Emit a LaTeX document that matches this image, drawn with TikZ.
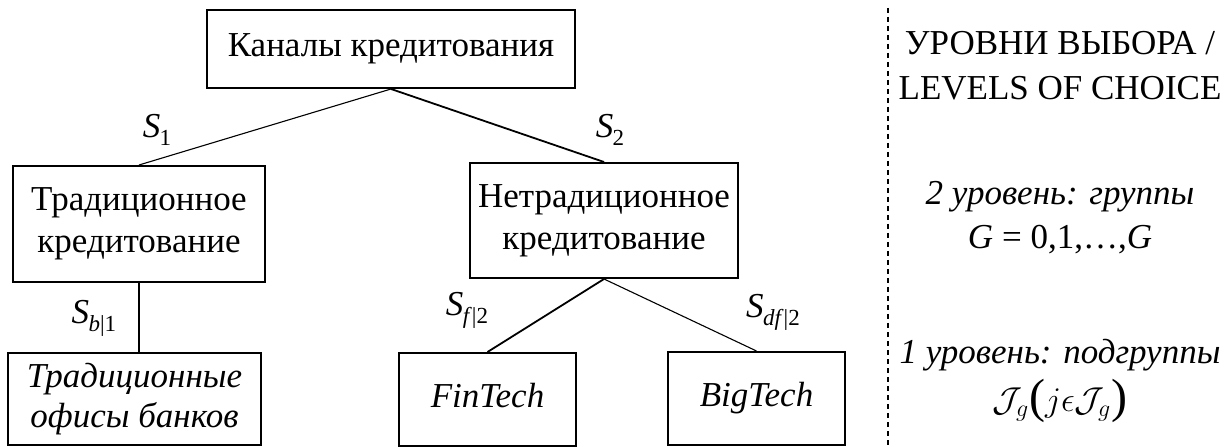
\documentclass[tikz,border=0pt]{standalone}
\usepackage{fontspec}
\setmainfont{Liberation Serif}
\newcommand\fs{\fontsize{17.5}{20}\selectfont}
\newcommand\subfs{\fontsize{11.5}{12}\selectfont}
\newcommand\bigpar[1]{{\fontsize{24}{24}\selectfont\raisebox{-0.5pt}{#1}}}
\newcommand\Ssub[1]{\textit{S}\kern-0.3pt\raisebox{-0.5ex}{\subfs #1}}
\begin{document}
\begin{tikzpicture}[x=0.5pt,y=-0.5pt,
  box/.style={draw,line width=1pt,rectangle,inner sep=0pt,align=center,font=\fs},
  ibox/.style={box,font=\fs\itshape},
  lbl/.style={inner sep=0pt,font=\fs},
  rtext/.style={inner sep=0pt,font=\fs,anchor=center},
  thinline/.style={line width=0.55pt},
  heavyline/.style={line width=0.9pt},
  divider/.style={line width=0.55pt,dash pattern=on 2.5pt off 2pt}]
\useasboundingbox (0,0) rectangle (1229,448);
% boxes
\node[box,minimum width=184pt,minimum height=39pt] (top) at (391,49) {Каналы кредитования};
\node[box,minimum width=126pt,minimum height=58pt] (left) at (139,224) {Традиционное\\[1pt]кредитование};
\node[box,minimum width=134pt,minimum height=57.5pt] (right) at (604,220.5) {Нетрадиционное\\[1pt]кредитование};
\node[ibox,minimum width=126.5pt,minimum height=46pt] (bl) at (134.5,399) {Традиционные\\офисы банков};
\node[ibox,minimum width=88.5pt,minimum height=46.5pt] (fin) at (487.5,399.5) {FinTech\vphantom{g}};
\node[ibox,minimum width=88.5pt,minimum height=46.5pt] (big) at (756.5,398.5) {BigTech\vphantom{g}};
% connectors
\draw[thinline] (top.south) -- (left.north);
\draw[heavyline] (top.south) -- (right.north);
\draw[thinline] (left.south) -- (left.south |- bl.north);
\draw[heavyline] (right.south) -- (fin.north);
\draw[thinline] (right.south) -- (big.north);
% labels
\node[lbl] (s1) at (157,130) {\Ssub{1}};
\node[lbl] (s2) at (610,130) {\Ssub{2}};
\node[lbl] (sb) at (94,318) {\Ssub{\textit{b}|1}};
\node[lbl] (sf) at (467,310) {\Ssub{\textit{f}|2}};
\node[lbl] (sdf) at (773,312) {\Ssub{\textit{df}|2}};
% divider
\coordinate (dtop) at (888,8);
\coordinate (dbot) at (888,448);
\draw[divider] (dtop) -- (dbot);
% right column
\node[rtext] (r1) at (1060,43) {УРОВНИ ВЫБОРА /};
\node[rtext] (r2) at (1060,88) {LEVELS OF CHOICE};
\node[rtext] (r3) at (1060,197) {\itshape 2 уровень: группы};
\node[rtext] (r4) at (1060,240) {\textit{G} = 0,1,…,\textit{G}};
\node[rtext] (r5) at (1060,355) {\itshape 1 уровень: подгруппы};
\node[rtext] (r6) at (1060,401) {$\mathcal{J}_g$\bigpar{(}$j\epsilon\mathcal{J}_g$\bigpar{)}};
\end{tikzpicture}
\end{document}
